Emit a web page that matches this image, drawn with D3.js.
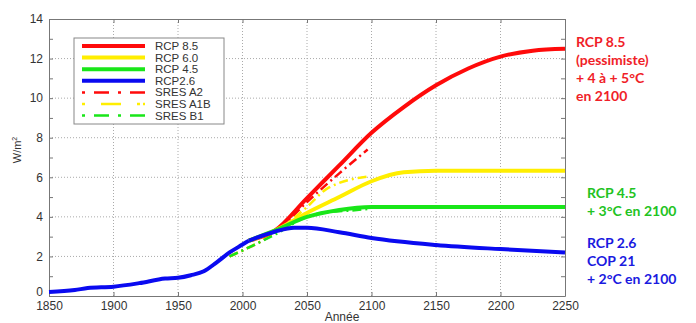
<!DOCTYPE html>
<html>
<head>
<meta charset="utf-8">
<script src="https://cdn.jsdelivr.net/npm/d3@7"></script>
<style>
  body { margin: 0; background: #fff; }
  svg text { font-family: "Liberation Sans", Arial, sans-serif; }
  .note { font-family: Lato, "Open Sans", sans-serif; font-weight: bold; font-size: 14px; }
</style>
</head>
<body>
<div id="chart"></div>
<script>
// historical forcing (W/m2), shared start of every RCP
const histYears = [1850, 1870, 1880, 1900, 1920, 1940, 1950, 1960, 1970, 1980, 1990, 2000, 2005];
const histVals  = [0.2, 0.3, 0.4, 0.47, 0.65, 0.88, 0.92, 1.05, 1.25, 1.7, 2.2, 2.6, 2.8];

const rcp85Years = [2005, 2025, 2050, 2075, 2100, 2125, 2150, 2175, 2200, 2225, 2250];
const rcp85Vals  = [2.8, 3.3, 4.95, 6.6, 8.25, 9.55, 10.65, 11.5, 12.1, 12.4, 12.5];
const rcp60Years = [2005, 2025, 2050, 2075, 2100, 2125, 2150, 2200, 2250];
const rcp60Vals  = [2.8, 3.3, 4.2, 5.0, 5.8, 6.25, 6.33, 6.33, 6.33];
const rcp45Years = [2005, 2025, 2050, 2075, 2100, 2150, 2250];
const rcp45Vals  = [2.8, 3.3, 4.0, 4.35, 4.5, 4.5, 4.5];
const rcp26Years = [2005, 2025, 2040, 2050, 2075, 2100, 2150, 2200, 2250];
const rcp26Vals  = [2.8, 3.25, 3.45, 3.45, 3.22, 2.93, 2.58, 2.37, 2.2];

const a2Years  = [1990, 2000, 2025, 2050, 2075, 2097];
const a2Vals   = [2.0, 2.3, 3.2, 4.75, 6.2, 7.4];
const a1bYears = [1990, 2000, 2025, 2050, 2065, 2098];
const a1bVals  = [2.0, 2.3, 3.2, 4.5, 5.4, 6.05];
const b1Years  = [1990, 2000, 2025, 2050, 2067, 2080, 2097];
const b1Vals   = [2.0, 2.3, 3.1, 4.0, 4.25, 4.3, 4.4];

const xTicks = [1850, 1900, 1950, 2000, 2050, 2100, 2150, 2200, 2250];
const yTicks = [0, 2, 4, 6, 8, 10, 12, 14];

const legendNames = ["RCP 8.5", "RCP 6.0", "RCP 4.5", "RCP2.6", "SRES A2", "SRES A1B", "SRES B1"];

const red = "#ff0a0a", yellow = "#ffee00", green = "#19e619", blue = "#0a0af0";

const width = 696, height = 323;
const margin = { top: 19, right: 131, bottom: 27, left: 49 };

const svg = d3.select("#chart").append("svg")
  .attr("width", width)
  .attr("height", height);

const x = d3.scaleLinear().domain([1850, 2250]).range([margin.left, width - margin.right]);
const y = d3.scaleLinear().domain([0, 14]).range([height - margin.bottom, margin.top]);

// dotted grid
svg.append("g").selectAll("line").data(xTicks.slice(1, -1)).enter().append("line")
  .attr("x1", d => x(d)).attr("x2", d => x(d))
  .attr("y1", y(0)).attr("y2", y(14))
  .attr("stroke", "#aaa").attr("stroke-dasharray", "1,2");
svg.append("g").selectAll("line").data(yTicks.slice(1, -1)).enter().append("line")
  .attr("x1", x(1850)).attr("x2", x(2250))
  .attr("y1", d => y(d)).attr("y2", d => y(d))
  .attr("stroke", "#aaa").attr("stroke-dasharray", "1,2");

// axes, ticks pointing inward
const xAxis = svg.append("g")
  .attr("transform", "translate(0," + y(0) + ")")
  .call(d3.axisBottom(x).tickValues(xTicks).tickFormat(d3.format("d")).tickSizeInner(-4).tickSizeOuter(0).tickPadding(5));
const yAxis = svg.append("g")
  .attr("transform", "translate(" + x(1850) + ",0)")
  .call(d3.axisLeft(y).tickValues(d3.range(0, 15, 1)).tickFormat(d => d % 2 === 0 ? d : "").tickSizeInner(-4).tickSizeOuter(0).tickPadding(6));
const yAxisR = svg.append("g")
  .attr("transform", "translate(" + x(2250) + ",0)")
  .call(d3.axisRight(y).tickValues(d3.range(0, 15, 1)).tickFormat("").tickSizeInner(-4).tickSizeOuter(0));
const xAxisT = svg.append("g")
  .attr("transform", "translate(0," + y(14) + ")")
  .call(d3.axisTop(x).tickValues(xTicks).tickFormat("").tickSizeInner(-4).tickSizeOuter(0));

[xAxis, yAxis, yAxisR, xAxisT].forEach(g => {
  g.selectAll("path, line").attr("stroke", "#777");
  g.selectAll("text").attr("fill", "#333").style("font-size", "12px");
});
// the zero label sits just above the 1850 label
yAxis.selectAll(".tick text").filter(d => d === 0).attr("y", -4);

// axis titles
svg.append("text")
  .attr("x", 342).attr("y", 321)
  .attr("text-anchor", "middle")
  .attr("fill", "#333")
  .style("font-size", "12px")
  .text("Année");
svg.append("text")
  .attr("transform", "translate(21,150) rotate(-90)")
  .attr("text-anchor", "middle")
  .attr("fill", "#333")
  .style("font-size", "11px")
  .html("W/m<tspan dy='-4' font-size='7'>2</tspan>");

const line = d3.line()
  .x(d => x(d[0]))
  .y(d => y(d[1]))
  .curve(d3.curveMonotoneX);

const zip = (a, b) => a.map((v, i) => [v, b[i]]);

const series = [
  { data: zip(a2Years, a2Vals), color: red, dash: "9,4,2,4", w: 2.5 },
  { data: zip(a1bYears, a1bVals), color: yellow, dash: "9,4,2,4", w: 2.5 },
  { data: zip(b1Years, b1Vals), color: green, dash: "9,4,2,4", w: 2.5 },
  { data: zip(rcp85Years, rcp85Vals), color: red, dash: null, w: 4 },
  { data: zip(rcp60Years, rcp60Vals), color: yellow, dash: null, w: 4 },
  { data: zip(rcp45Years, rcp45Vals), color: green, dash: null, w: 4 },
  { data: zip(rcp26Years, rcp26Vals), color: blue, dash: null, w: 4 },
  { data: zip(histYears, histVals), color: blue, dash: null, w: 4 }
];

svg.append("g").selectAll("path").data(series).enter().append("path")
  .attr("d", d => line(d.data))
  .attr("fill", "none")
  .attr("stroke", d => d.color)
  .attr("stroke-width", d => d.w)
  .attr("stroke-dasharray", d => d.dash);

// legend
const legendColors = [red, yellow, green, blue, red, yellow, green];
const lg = svg.append("g").attr("transform", "translate(74,38)");
lg.append("rect")
  .attr("width", 150).attr("height", 86)
  .attr("fill", "#fff").attr("stroke", "#888");
const rows = lg.selectAll("g").data(legendNames).enter().append("g")
  .attr("transform", (d, i) => "translate(0," + (8 + i * 11.6) + ")");
rows.append("line")
  .attr("x1", 8).attr("x2", 71)
  .attr("stroke", (d, i) => legendColors[i])
  .attr("stroke-width", (d, i) => i < 4 ? 4 : 2.5)
  .attr("stroke-dasharray", (d, i) => i < 4 ? null : (i === 5 ? "3,16,20,16,3" : "3,9,15,9,3,9,15"));
rows.append("text")
  .attr("x", 81).attr("y", 4)
  .attr("fill", "#333")
  .style("font-size", "11.5px")
  .text(d => d);

// side notes
const notes = [
  { lines: ["RCP 8.5", "(pessimiste)", "+ 4 à + 5°C", "en 2100"], color: "#f01e28", x: 576, y: 47 },
  { lines: ["RCP 4.5", "+ 3°C en 2100"], color: "#22c322", x: 587, y: 198 },
  { lines: ["RCP 2.6", "COP 21", "+ 2°C en 2100"], color: "#1a1ae0", x: 587, y: 248 }
];
notes.forEach(n => {
  const t = svg.append("text").attr("class", "note").attr("fill", n.color);
  n.lines.forEach((s, i) => {
    t.append("tspan").attr("x", n.x).attr("y", n.y + i * 18).text(s);
  });
});
</script>
</body>
</html>
